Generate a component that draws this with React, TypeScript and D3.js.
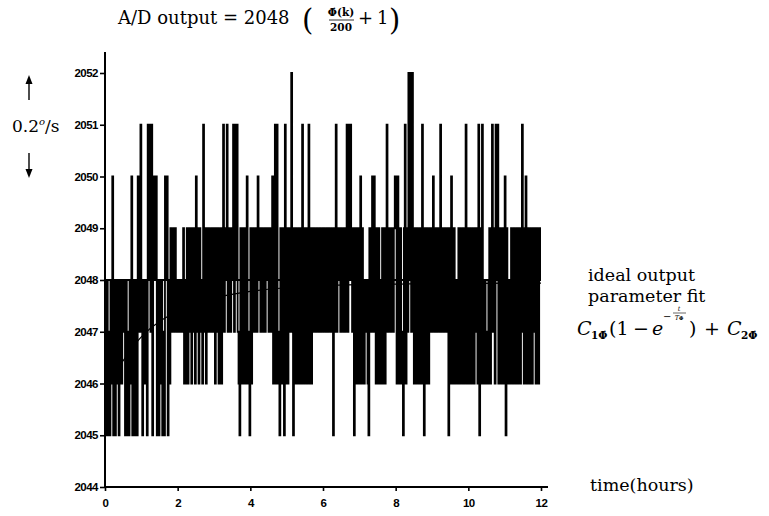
import * as d3 from "d3";
import { useEffect, useRef } from "react";

// A/D counts, one string per hour, one digit per sample: count = 2044 + digit
const samplesByHour = [
  "3141314261" + "4142413424" + "3414131426" + "1421416437",
  "4142431747" + "3714646141" + "4241316461" + "4253453543",
  "4343435242" + "5253525352" + "6352534273" + "5253543535",
  "5253524525" + "7354735435" + "4737473215" + "2525326321",
  "5235345364" + "5354353545" + "3543626727" + "3215253172",
  "5253483152" + "5245252732" + "5325725253" + "5435435345",
  "3543535435" + "4153735453" + "5435357374" + "7535152525",
  "2625424342" + "1535636525" + "2524252525" + "7354354356",
  "6265253215" + "7253848384" + "2525325247" + "2152532535",
  "3643535437" + "3543543515" + "2632524325" + "2532523725",
  "2532532535" + "2715273242" + "3245257352" + "7472532525",
  "6153242532" + "5325253257" + "3256253253" + "2535253254",
];
const lastSample = 2048;
const countBase = 2044;
const sampleStep = 0.025; // hours

const idealOutput = 2048;
const fitHours = [0, 1, 2, 3, 4, 5, 6, 7, 8, 9, 10, 11, 12];
const fitValues = [2045.9, 2046.9, 2047.4, 2047.65, 2047.78, 2047.85, 2047.89, 2047.91, 2047.92, 2047.93, 2047.93, 2047.94, 2047.94];

const yTicks = [2044, 2045, 2046, 2047, 2048, 2049, 2050, 2051, 2052];
const xTicks = [0, 2, 4, 6, 8, 10, 12];

const serif = "'DejaVu Serif', serif";
const tickFont = "'Liberation Sans', Arial, sans-serif";

const App = () => {
  const svgRef = useRef<SVGSVGElement | null>(null);

  const x = d3.scaleLinear().domain([0, 12]).range([105, 541]);
  const y = d3.scaleLinear().domain([2044, 2052]).range([487, 73]);

  const counts: number[] = [];
  samplesByHour.forEach((s) => s.split("").forEach((c) => counts.push(countBase + Number(c))));
  counts.push(lastSample);
  const samples: [number, number][] = counts.map((v, i) => [i * sampleStep, v]);

  const stepLine = d3
    .line<[number, number]>()
    .x((d) => x(d[0]))
    .y((d) => y(d[1]))
    .curve(d3.curveStepAfter);

  const fitLine = d3
    .line<number>()
    .x((d) => x(d))
    .y((d, i) => y(fitValues[i]))
    .curve(d3.curveMonotoneX);

  useEffect(() => {
    const svg = d3.select(svgRef.current);

    const gy = svg.select<SVGGElement>("g.y-axis");
    gy.call(d3.axisLeft(y).tickValues(yTicks).tickSize(5).tickSizeOuter(0).tickPadding(2).tickFormat(d3.format("d")));
    gy.select(".domain").remove();

    const gx = svg.select<SVGGElement>("g.x-axis");
    gx.call(d3.axisBottom(x).tickValues(xTicks).tickSize(4).tickSizeOuter(0).tickPadding(8).tickFormat(d3.format("d")));
    gx.select(".domain").remove();

    svg.selectAll(".tick line").attr("stroke", "#000").attr("stroke-width", 1.6);
    svg
      .selectAll(".tick text")
      .attr("fill", "#000")
      .style("font-family", tickFont)
      .style("font-weight", "bold")
      .style("font-size", "11.5px")
      .style("letter-spacing", "-0.5px");
  }, []);

  return (
    <svg
      ref={svgRef}
      width={769}
      height={516}
      style={{ position: "absolute", left: 0, top: 0, background: "#fff" }}
    >
      <path d={stepLine(samples) ?? ""} fill="none" stroke="#000" strokeWidth={1.8} />
      <line x1={x(0)} x2={x(12)} y1={y(idealOutput)} y2={y(idealOutput)} stroke="#000" strokeWidth={1.8} />
      <path d={fitLine(fitHours) ?? ""} fill="none" stroke="#000" strokeWidth={1.2} />

      <g className="y-axis" transform={`translate(${x(0)},0)`} />
      <g className="x-axis" transform={`translate(0,${y(2044)})`} />
      <line x1={x(0)} x2={x(0)} y1={52} y2={y(2044)} stroke="#000" strokeWidth={2} />
      <line x1={x(0)} x2={548} y1={y(2044)} y2={y(2044)} stroke="#000" strokeWidth={2} />

      {/* title */}
      <g fontFamily={serif} fill="#000">
        <text x={118} y={24} fontSize={18}>A/D output = 2048</text>
        <text x={302} y={30} fontSize={29}>(</text>
        <text x={341} y={16} fontSize={10.5} fontWeight="bold" textAnchor="middle">Φ̇(k)</text>
        <line x1={329} x2={354} y1={20} y2={20} stroke="#000" strokeWidth={0.8} />
        <text x={341} y={31} fontSize={10.5} fontWeight="bold" textAnchor="middle">200</text>
        <text x={358} y={24} fontSize={18}>+</text>
        <text x={377} y={24} fontSize={18}>1</text>
        <text x={389} y={30} fontSize={29}>)</text>
      </g>

      {/* left unit label */}
      <g fontFamily={serif} fill="#000">
        <line x1={29} x2={29} y1={100} y2={80} stroke="#000" strokeWidth={1.4} />
        <path d="M29,75 L25.5,84 L32.5,84 Z" fill="#000" />
        <line x1={29} x2={29} y1={153} y2={173} stroke="#000" strokeWidth={1.4} />
        <path d="M29,178 L25.5,169 L32.5,169 Z" fill="#000" />
        <text x={12} y={132} fontSize={17}>
          0.2<tspan fontSize={10} fontStyle="italic" dy={-7}>o</tspan>
          <tspan dy={7}>/s</tspan>
        </text>
      </g>

      {/* right labels */}
      <g fontFamily={serif} fill="#000" fontSize={17.5}>
        <text x={588} y={281}>ideal output</text>
        <text x={588} y={302}>parameter fit</text>
        <text x={590} y={491}>time(hours)</text>
      </g>

      {/* fit formula */}
      <g fontFamily={serif} fill="#000">
        <text x={577} y={335} fontSize={19} fontStyle="italic">C</text>
        <text x={591} y={339} fontSize={10.5} fontWeight="bold">1Φ̇</text>
        <text x={609} y={335} fontSize={19}>(1</text>
        <text x={633} y={335} fontSize={19}>−</text>
        <text x={652} y={335} fontSize={19} fontStyle="italic">e</text>
        <text x={663} y={320} fontSize={10}>−</text>
        <text x={679} y={311} fontSize={6.5} fontStyle="italic" textAnchor="middle">t</text>
        <line x1={673} x2={686} y1={313} y2={313} stroke="#000" strokeWidth={0.6} />
        <text x={679} y={320} fontSize={6.5} fontStyle="italic" textAnchor="middle">T<tspan fontSize={5} fontWeight="bold" fontStyle="normal">Φ̇</tspan></text>
        <text x={689} y={335} fontSize={19}>)</text>
        <text x={704} y={335} fontSize={19}>+</text>
        <text x={727} y={335} fontSize={19} fontStyle="italic">C</text>
        <text x={741} y={339} fontSize={10.5} fontWeight="bold">2Φ̇</text>
      </g>
    </svg>
  );
};

export default App;
